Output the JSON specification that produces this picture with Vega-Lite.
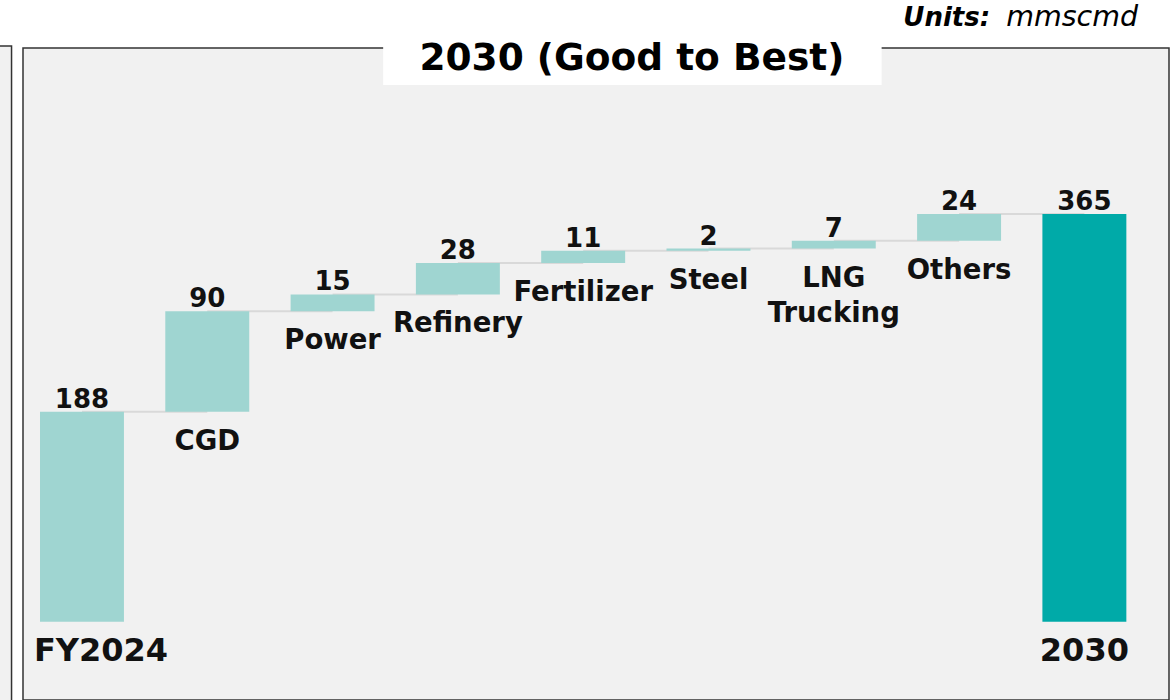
{
  "$schema": "https://vega.github.io/schema/vega-lite/v6.json",
  "autosize": {"type": "none"},
  "padding": {"left": 23, "top": 48, "right": 5, "bottom": 0},
  "width": 1146,
  "height": 652,
  "background": "#ffffff",
  "config": {
    "font": "DejaVu Sans",
    "view": {"fill": "#f1f1f1", "stroke": "#333333", "strokeWidth": 1.5},
    "axis": {"disable": true}
  },
  "data": {
    "values": [
      {"cat": "FY2024", "label": "FY2024", "start": 0, "end": 188, "value": 188, "kind": "total", "next": "CGD"},
      {"cat": "CGD", "label": "CGD", "start": 188, "end": 278, "value": 90, "kind": "inc", "next": "Power"},
      {"cat": "Power", "label": "Power", "start": 278, "end": 293, "value": 15, "kind": "inc", "next": "Refinery"},
      {"cat": "Refinery", "label": "Refinery", "start": 293, "end": 321, "value": 28, "kind": "inc", "next": "Fertilizer"},
      {"cat": "Fertilizer", "label": "Fertilizer", "start": 321, "end": 332, "value": 11, "kind": "inc", "next": "Steel"},
      {"cat": "Steel", "label": "Steel", "start": 332, "end": 334, "value": 2, "kind": "inc", "next": "LNG Trucking"},
      {"cat": "LNG Trucking", "label": "LNG\nTrucking", "start": 334, "end": 341, "value": 7, "kind": "inc", "next": "Others"},
      {"cat": "Others", "label": "Others", "start": 341, "end": 365, "value": 24, "kind": "inc", "next": "2030"},
      {"cat": "2030", "label": "2030", "start": 0, "end": 365, "value": 365, "kind": "final", "next": null}
    ]
  },
  "encoding": {
    "x": {
      "field": "cat",
      "type": "nominal",
      "scale": {
        "domain": ["FY2024", "CGD", "Power", "Refinery", "Fertilizer", "Steel", "LNG Trucking", "Others", "2030"],
        "paddingInner": 0.33,
        "paddingOuter": 0.238,
        "align": 0.285
      }
    }
  },
  "layer": [
    {
      "data": {"values": [{}]},
      "mark": {"type": "rect", "fill": "#f1f1f1", "stroke": "#333333", "strokeWidth": 1.5},
      "encoding": {
        "x": {"datum": "FY2024", "type": "nominal", "bandPosition": -0.6},
        "x2": {"datum": "FY2024", "bandPosition": -0.339},
        "y": {"datum": 515.3, "type": "quantitative", "scale": {"domain": [-70, 513.5], "nice": false, "zero": false}},
        "y2": {"datum": -90}
      }
    },
    {
      "transform": [{"filter": "datum.next != null"}],
      "mark": {"type": "rule", "stroke": "#d9d9d9", "strokeWidth": 2},
      "encoding": {
        "x2": {"field": "next"},
        "y": {"field": "end", "type": "quantitative"}
      }
    },
    {
      "mark": {"type": "bar"},
      "encoding": {
        "y": {"field": "start", "type": "quantitative"},
        "y2": {"field": "end"},
        "color": {
          "field": "kind",
          "type": "nominal",
          "scale": {"domain": ["total", "inc", "final"], "range": ["#9fd5d1", "#9fd5d1", "#00aaa8"]},
          "legend": null
        }
      }
    },
    {
      "mark": {"type": "text", "fontWeight": "bold", "fontSize": 26, "baseline": "alphabetic", "dy": -4, "color": "#111111"},
      "encoding": {
        "y": {"field": "end", "type": "quantitative"},
        "text": {"field": "value", "type": "quantitative"}
      }
    },
    {
      "transform": [{"filter": "datum.kind == 'inc'"}],
      "mark": {"type": "text", "fontWeight": "bold", "fontSize": 27.5, "baseline": "top", "dy": 16, "lineBreak": "\n", "lineHeight": 35, "color": "#111111"},
      "encoding": {
        "y": {"field": "start", "type": "quantitative"},
        "text": {"field": "label"}
      }
    },
    {
      "transform": [{"filter": "datum.cat == 'FY2024'"}],
      "mark": {"type": "text", "fontWeight": "bold", "fontSize": 32, "baseline": "top", "align": "left", "dx": -6, "dy": 14, "color": "#111111"},
      "encoding": {
        "x": {"field": "cat", "type": "nominal", "bandPosition": 0},
        "y": {"field": "start", "type": "quantitative"},
        "text": {"field": "label"}
      }
    },
    {
      "transform": [{"filter": "datum.cat == '2030'"}],
      "mark": {"type": "text", "fontWeight": "bold", "fontSize": 32, "baseline": "top", "dy": 14, "color": "#111111"},
      "encoding": {
        "y": {"field": "start", "type": "quantitative"},
        "text": {"field": "label"}
      }
    },
    {
      "data": {"values": [{}]},
      "mark": {"type": "rect", "fill": "#ffffff"},
      "encoding": {
        "x": {"datum": "Refinery", "type": "nominal", "bandPosition": -0.39},
        "x2": {"datum": "LNG Trucking", "bandPosition": 1.07},
        "y": {"datum": 522, "type": "quantitative"},
        "y2": {"datum": 480.4}
      }
    },
    {
      "data": {"values": [{}]},
      "mark": {"type": "text", "text": "2030 (Good to Best)", "fontWeight": "bold", "fontSize": 37.5, "baseline": "alphabetic", "color": "#000000"},
      "encoding": {
        "x": {"datum": "Fertilizer", "type": "nominal", "bandPosition": 1.08},
        "y": {"datum": 493.5, "type": "quantitative"}
      }
    },
    {
      "data": {"values": [{}]},
      "mark": {"type": "text", "text": "mmscmd", "fontStyle": "italic", "fontSize": 28.5, "baseline": "alphabetic", "align": "right", "color": "#000000"},
      "encoding": {
        "x": {"datum": "2030", "type": "nominal", "bandPosition": 1.14},
        "y": {"datum": 533, "type": "quantitative"}
      }
    },
    {
      "data": {"values": [{}]},
      "mark": {"type": "text", "text": "Units:", "fontStyle": "italic", "fontWeight": "bold", "fontSize": 26, "baseline": "alphabetic", "align": "right", "dx": -148, "color": "#000000"},
      "encoding": {
        "x": {"datum": "2030", "type": "nominal", "bandPosition": 1.14},
        "y": {"datum": 533, "type": "quantitative"}
      }
    }
  ]
}
